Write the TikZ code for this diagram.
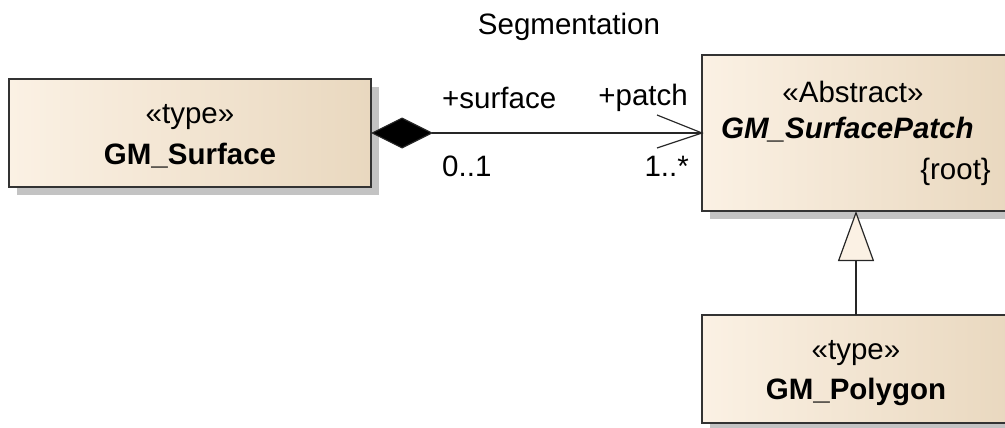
\documentclass[tikz,border=0pt]{standalone}
\usepackage{fontspec}
\setmainfont{Liberation Sans}
\usetikzlibrary{arrows.meta}
\definecolor{boxL}{HTML}{FBF1E4}
\definecolor{boxR}{HTML}{E9D8BF}
\definecolor{shadowc}{HTML}{C3C3C3}
\tikzset{
  umlbox/.style={draw=black!80, line width=1.2pt, left color=boxL, right color=boxR, shading angle=90},
  shad/.style={fill=shadowc, draw=none},
  lbl/.style={font=\fontsize{29.5}{32}\selectfont, inner sep=0pt},
  conn/.style={line width=1.2pt, draw=black!85}
}
\begin{document}
\begin{tikzpicture}[x=1pt,y=-1pt]
\useasboundingbox (0,0) rectangle (1005,428);
% shadows
\fill[shad] (17,87) rectangle (379,195);
\fill[shad] (710,63) rectangle (1013,219);
\fill[shad] (710,323) rectangle (1013,431);
% boxes
\draw[umlbox] (9,79) rectangle (371,187);
\draw[umlbox] (702,55) rectangle (1010,211);
\draw[umlbox] (702,315) rectangle (1010,423);
\coordinate (surfE) at (371,133);
\coordinate (patchW) at (702,133);
\coordinate (patchS) at (856,211);
\coordinate (polyN) at (856,315);
% texts
\node[lbl] (t1) at (190,117) {«type»};
\node[lbl] (n1) at (190,156) {\bfseries GM\_Surface};
\node[lbl] (t2) at (853,92) {«Abstract»};
\node[lbl, anchor=west] (n2) at (721,130) {\bfseries\itshape GM\_SurfacePatch};
\node[lbl, anchor=east] (r2) at (991,172) {\{root\}};
\node[lbl] (t3) at (856,353) {«type»};
\node[lbl] (n3) at (856,392) {\bfseries GM\_Polygon};
\node[lbl] (seg) at (569,27) {Segmentation};
\node[lbl, anchor=west] (ls) at (442,98) {+surface};
\node[lbl, anchor=east] (lp) at (688,98) {+patch};
\node[lbl, anchor=west] (m1) at (442,166) {0..1};
\node[lbl, anchor=east] (m2) at (689,166) {1..*};
% composition
\draw[conn, {Diamond[length=62pt, width=31pt, fill=black]}-] (surfE) -- (patchW);
\draw[conn] (patchW) ++(-45,-18) -- (patchW) -- ++(-45,15);
% generalization
\draw[conn, -{Triangle[open, length=50pt, width=36pt, fill=boxL, line width=1.2pt]}] (polyN) -- (patchS);
\end{tikzpicture}
\end{document}
